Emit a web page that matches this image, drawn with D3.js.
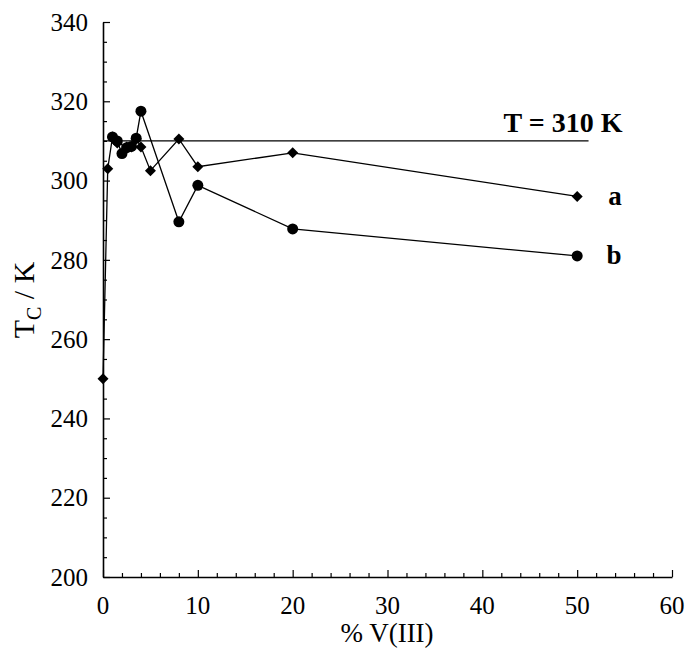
<!DOCTYPE html>
<html>
<head>
<meta charset="utf-8">
<script src="https://cdn.jsdelivr.net/npm/d3@7"></script>
<style>
  html, body { margin: 0; padding: 0; background: #fff; }
  svg text { font-family: "Liberation Serif", "Times New Roman", serif; fill: #000; }
</style>
</head>
<body>
<svg id="chart" width="686" height="650"></svg>
<script>
// Curie temperature vs. V(III) content
const seriesAX = [0, 0.5, 1, 1.5, 2.5, 3, 3.5, 4, 5, 8, 10, 20, 50];
const seriesAY = [250, 303, 311, 309.5, 308.5, 308.5, 310.5, 308.5, 302.5, 310.5, 303.5, 307, 296];
const seriesBX = [1, 1.5, 2, 2.5, 3, 3.5, 4, 8, 10, 20, 50];
const seriesBY = [311, 310, 306.8, 308.3, 308.6, 310.7, 317.5, 289.6, 298.8, 287.8, 281];
const refTemp = 310;
const refXEnd = 51.2;
const xTicks = [0, 10, 20, 30, 40, 50, 60];
const yTicks = [200, 220, 240, 260, 280, 300, 320, 340];

const svg = d3.select("#chart");
const plotL = 103, plotR = 672, plotT = 22, plotB = 577;

const x = d3.scaleLinear().domain([0, 60]).range([plotL, plotR]);
const y = d3.scaleLinear().domain([200, 340]).range([plotB, plotT]);

// Axes: ticks point into the plot area
const yMinor = d3.range(200, 341, 5).filter(v => v % 20 !== 0);
const xMinor = d3.range(0, 61, 2).filter(v => v % 10 !== 0);

svg.append("g").attr("transform", `translate(${plotL},0)`)
  .call(d3.axisRight(y).tickValues(yTicks).tickSize(7).tickSizeOuter(0).tickFormat(""));
svg.append("g").attr("transform", `translate(${plotL},0)`)
  .call(d3.axisRight(y).tickValues(yMinor).tickSize(4).tickFormat(""))
  .select(".domain").remove();
svg.append("g").attr("transform", `translate(0,${plotB})`)
  .call(d3.axisTop(x).tickValues(xTicks).tickSize(7).tickSizeOuter(0).tickFormat(""));
svg.append("g").attr("transform", `translate(0,${plotB})`)
  .call(d3.axisTop(x).tickValues(xMinor).tickSize(4).tickFormat(""))
  .select(".domain").remove();

svg.selectAll(".domain").attr("stroke", "#000").attr("stroke-width", 1.6);
svg.selectAll(".tick line").attr("stroke", "#000").attr("stroke-width", 1.2);

// Tick labels
svg.append("g").selectAll("text").data(yTicks).join("text")
  .attr("x", 88).attr("y", d => y(d)).attr("dy", "0.35em")
  .attr("text-anchor", "end").attr("font-size", 25).text(d => d);
svg.append("g").selectAll("text").data(xTicks).join("text")
  .attr("x", d => x(d)).attr("y", 605).attr("dy", "0.35em")
  .attr("text-anchor", "middle").attr("font-size", 25).text(d => d);

// Axis titles
svg.append("text").attr("x", 387).attr("y", 633).attr("dy", "0.35em")
  .attr("text-anchor", "middle").attr("font-size", 27).text("% V(III)");
const yTitle = svg.append("text")
  .attr("transform", "translate(34,300) rotate(-90)")
  .attr("text-anchor", "middle").attr("font-size", 30);
yTitle.append("tspan").text("T");
yTitle.append("tspan").attr("font-size", 20).attr("dy", 7).text("C");
yTitle.append("tspan").attr("dy", -7).text(" / K");

// Reference line T = 310 K
svg.append("line")
  .attr("x1", x(0)).attr("x2", x(refXEnd))
  .attr("y1", y(refTemp)).attr("y2", y(refTemp))
  .attr("stroke", "#000").attr("stroke-width", 1.3);
svg.append("text").attr("x", 563).attr("y", 122).attr("dy", "0.35em")
  .attr("text-anchor", "middle").attr("font-size", 28).attr("font-weight", "bold")
  .text("T = 310 K");

const line = d3.line().x(d => x(d[0])).y(d => y(d[1]));
const dataA = seriesAX.map((v, i) => [v, seriesAY[i]]);
const dataB = seriesBX.map((v, i) => [v, seriesBY[i]]);

svg.append("path").datum(dataA).attr("d", line)
  .attr("fill", "none").attr("stroke", "#000").attr("stroke-width", 1.3);
svg.append("path").datum(dataB).attr("d", line)
  .attr("fill", "none").attr("stroke", "#000").attr("stroke-width", 1.3);

// Markers: diamonds for a, circles for b
svg.append("g").selectAll("path").data(dataA).join("path")
  .attr("transform", d => `translate(${x(d[0])},${y(d[1])})`)
  .attr("d", "M0,-5.5L5.5,0L0,5.5L-5.5,0Z").attr("fill", "#000");
svg.append("g").selectAll("circle").data(dataB).join("circle")
  .attr("cx", d => x(d[0])).attr("cy", d => y(d[1])).attr("r", 5.5).attr("fill", "#000");

// Series labels
svg.append("text").attr("x", 615).attr("y", y(296)).attr("dy", "0.3em")
  .attr("text-anchor", "middle").attr("font-size", 27).attr("font-weight", "bold").text("a");
svg.append("text").attr("x", 614).attr("y", y(281)).attr("dy", "0.3em")
  .attr("text-anchor", "middle").attr("font-size", 27).attr("font-weight", "bold").text("b");
</script>
</body>
</html>
